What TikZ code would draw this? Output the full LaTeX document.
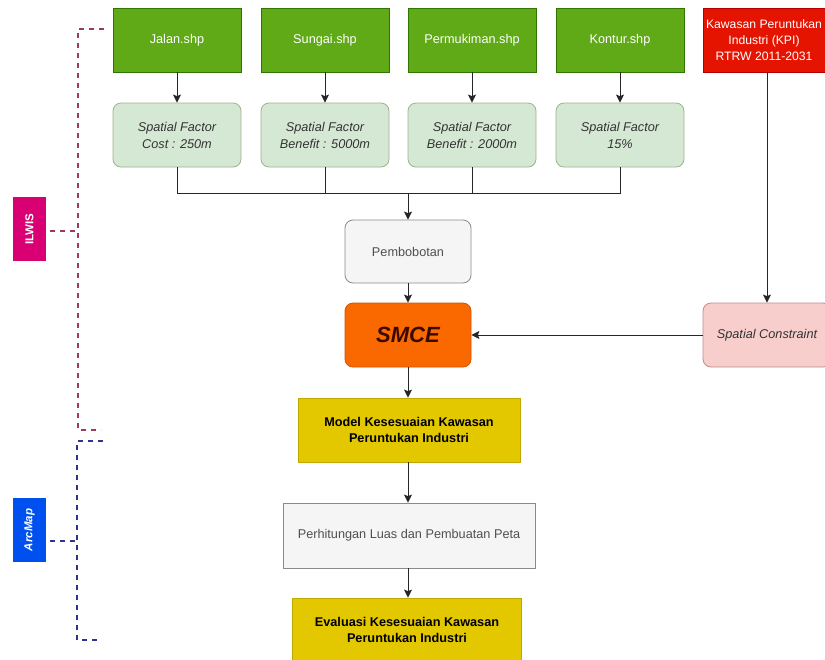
\documentclass[tikz,border=0pt]{standalone}
\usepackage{fontspec}
\setmainfont{Liberation Sans}
\usetikzlibrary{arrows.meta}
\definecolor{gfill}{HTML}{60A917}
\definecolor{gline}{HTML}{2D7600}
\definecolor{ffill}{HTML}{D5E8D4}
\definecolor{fline}{HTML}{9DB38E}
\definecolor{rfill}{HTML}{E51400}
\definecolor{rline}{HTML}{B20000}
\definecolor{pfill}{HTML}{F5F5F5}
\definecolor{pline}{HTML}{8A8A8A}
\definecolor{ofill}{HTML}{FA6800}
\definecolor{oline}{HTML}{D35400}
\definecolor{otext}{HTML}{3A0A00}
\definecolor{sfill}{HTML}{F8CECC}
\definecolor{sline}{HTML}{C08A88}
\definecolor{yfill}{HTML}{E3C800}
\definecolor{yline}{HTML}{C0A800}
\definecolor{mfill}{HTML}{D80073}
\definecolor{bfill}{HTML}{0050EF}
\definecolor{ildash}{HTML}{9A3A62}
\definecolor{ardash}{HTML}{2E3590}
\definecolor{dtext}{HTML}{333333}
\definecolor{ltext}{HTML}{505050}
\tikzset{
  base/.style={draw, line width=0.8pt, align=center, inner sep=2pt,
    font=\fontsize{12.7}{16}\selectfont},
  gbox/.style={base, fill=gfill, draw=gline, text=white, minimum width=128pt, minimum height=64pt},
  kbox/.style={base, fill=rfill, draw=rline, text=white, minimum width=122pt, minimum height=64pt,
    inner sep=0pt, font=\fontsize{12.2}{16}\selectfont},
  fbox/.style={base, rounded corners=8pt, fill=ffill, draw=fline, text=dtext,
    minimum width=128pt, minimum height=64pt, font=\fontsize{12.7}{17}\selectfont\itshape},
  pbbox/.style={base, rounded corners=8pt, fill=pfill, draw=pline, text=ltext,
    minimum width=126pt, minimum height=63pt},
  smbox/.style={base, rounded corners=8pt, fill=ofill, draw=oline, text=otext,
    minimum width=126pt, minimum height=64pt, font=\fontsize{22}{24}\selectfont\bfseries\itshape},
  scbox/.style={base, rounded corners=8pt, fill=sfill, draw=sline, text=dtext,
    minimum width=128pt, minimum height=64pt, font=\fontsize{12.7}{16}\selectfont\itshape},
  ybox/.style={base, fill=yfill, draw=yline, text=black,
    minimum height=64pt, font=\fontsize{12.7}{16}\selectfont\bfseries},
  phbox/.style={base, fill=pfill, draw=pline, text=ltext, minimum width=252pt, minimum height=65pt},
  tagbox/.style={fill=#1, minimum width=33pt, minimum height=64pt, inner sep=0pt, text=white,
    font=\fontsize{11.5}{13}\selectfont\bfseries},
  conn/.style={draw=black!85, line width=1pt},
  arr/.style={conn, -{Stealth[length=8pt,width=8pt,inset=1.5pt]}},
  ildashed/.style={draw=ildash, line width=1.3pt, dash pattern=on 5pt off 5pt},
  ardashed/.style={draw=ardash, line width=1.3pt, dash pattern=on 5pt off 5pt},
}
\begin{document}
\begin{tikzpicture}[x=1pt, y=-1pt]
\useasboundingbox[fill=white] (0,0) rectangle (825,659);

% top row
\node[gbox] (g1) at (177,40) {Jalan.shp};
\node[gbox] (g2) at (325,40) {Sungai.shp};
\node[gbox] (g3) at (472,40) {Permukiman.shp};
\node[gbox] (g4) at (620,40) {Kontur.shp};
\node[kbox] (kpi) at (764,40) {Kawasan Peruntukan\\Industri (KPI)\\RTRW 2011-2031};

% factor row
\node[fbox] (f1) at (177,135) {Spatial Factor\\Cost : 250m};
\node[fbox] (f2) at (325,135) {Spatial Factor\\Benefit : 5000m};
\node[fbox] (f3) at (472,135) {Spatial Factor\\Benefit : 2000m};
\node[fbox] (f4) at (620,135) {Spatial Factor\\15\%};

\node[pbbox] (pemb) at (408,251.5) {Pembobotan};
\node[smbox] (smce) at (408,335) {SMCE};
\node[scbox] (sc) at (767,335) {Spatial Constraint};
\node[ybox, minimum width=222pt] (model) at (409,430) {Model Kesesuaian Kawasan\\Peruntukan Industri};
\node[phbox] (perh) at (409,535.5) {Perhitungan Luas dan Pembuatan Peta};
\node[ybox, minimum width=229pt] (eval) at (407,630) {Evaluasi Kesesuaian Kawasan\\Peruntukan Industri};

% side tags
\node[tagbox=mfill] (ilwis) at (29.5,229) {\rotatebox{90}{ILWIS}};
\node[tagbox=bfill] (arcmap) at (29.5,530) {\rotatebox{90}{\itshape ArcMap}};

% connectors
\foreach \i in {1,2,3,4} {\draw[arr] (g\i.south) -- (f\i.north);}
\coordinate (merge) at (408,193);
\draw[conn] (f1.south) |- (merge);
\draw[conn] (f4.south) |- (merge);
\draw[conn] (f2.south) -- (f2.south |- merge);
\draw[conn] (f3.south) -- (f3.south |- merge);
\draw[arr] (merge) -- (pemb.north);
\draw[arr] (pemb.south) -- (smce.north);
\draw[arr] (sc.north |- kpi.south) -- (sc.north);
\draw[arr] (sc.west) -- (smce.east);
\draw[arr] (smce.south) -- (smce.south |- model.north);
\draw[arr] (smce.south |- model.south) -- (smce.south |- perh.north);
\draw[arr] (smce.south |- perh.south) -- (smce.south |- eval.north);

% brackets
\coordinate (ilT) at (104,29);
\coordinate (ilB) at (101,430);
\coordinate (ilM) at (78,231);
\draw[ildashed] (ilT) -- (78,29) -- (78,430) -- (ilB);
\draw[ildashed] (ilwis.east |- ilM) ++(4,0) -- (ilM);
\coordinate (arT) at (103,441);
\coordinate (arB) at (97,640);
\coordinate (arM) at (77,541);
\draw[ardashed] (arT) -- (77,441) -- (77,640) -- (arB);
\draw[ardashed] (arcmap.east |- arM) ++(4,0) -- (arM);
\end{tikzpicture}
\end{document}
